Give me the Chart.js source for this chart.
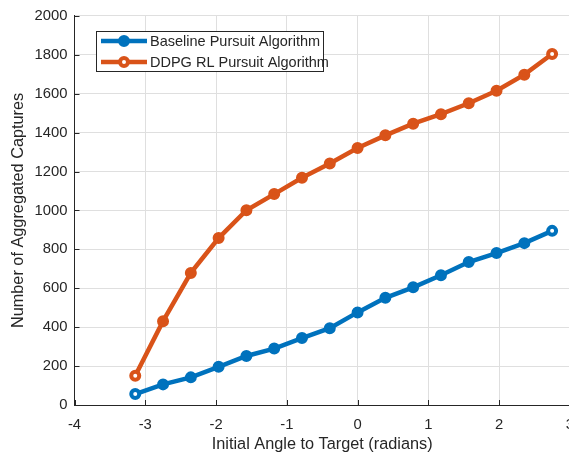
<!DOCTYPE html>
<html>
<head>
<meta charset="utf-8">
<script src="https://cdn.jsdelivr.net/npm/chart.js@4.4.1/dist/chart.umd.min.js"></script>
<style>
  html, body { margin: 0; padding: 0; background: #fff; overflow: hidden; width: 569px; height: 458px; }
  canvas { display: block; }
</style>
</head>
<body>
<canvas id="c" width="585" height="458"></canvas>
<script>
// Initial angle to target (radians), one sample every pi/8
const angles = [-3.1416, -2.7489, -2.3562, -1.9635, -1.5708, -1.1781, -0.7854, -0.3927,
                0, 0.3927, 0.7854, 1.1781, 1.5708, 1.9635, 2.3562, 2.7489];
// Aggregated captures per algorithm
const baselineCaptures = [56, 106, 142, 196, 252, 290, 344, 395, 476, 551, 605, 667, 735, 781, 832, 895];
const ddpgCaptures = [150, 431, 679, 858, 1001, 1084, 1168, 1241, 1321, 1386, 1446, 1495, 1551, 1615, 1698, 1804];
// Axis ticks
const xTicks = [-4, -3, -2, -1, 0, 1, 2, 3];
const yTicks = [0, 200, 400, 600, 800, 1000, 1200, 1400, 1600, 1800, 2000];
const seriesNames = ['Baseline Pursuit Algorithm', 'DDPG RL Pursuit Algorithm'];

const BLUE = '#0072BD';
const ORANGE = '#D95319';
const INK = '#262626';
const GRID = '#dfdfdf';
const FONT = 'Liberation Sans, Arial, Helvetica, sans-serif';

function toPoints(ys) { return ys.map((y, i) => ({ x: angles[i], y })); }
function pointFills(ys, color) { return ys.map((_, i) => (i === 0 || i === ys.length - 1) ? '#ffffff' : color); }

// Small tick marks pointing into the plot area
const inwardTicks = {
  id: 'inwardTicks',
  beforeDatasetsDraw(chart) {
    const { ctx, chartArea, scales } = chart;
    ctx.save();
    ctx.strokeStyle = INK;
    ctx.lineWidth = 1;
    ctx.beginPath();
    xTicks.forEach(v => {
      const px = Math.round(scales.x.getPixelForValue(v)) + 0.5;
      ctx.moveTo(px, chartArea.bottom);
      ctx.lineTo(px, chartArea.bottom - 5);
    });
    yTicks.forEach(v => {
      const py = Math.round(scales.y.getPixelForValue(v)) + 0.5;
      ctx.moveTo(chartArea.left, py);
      ctx.lineTo(chartArea.left + 5, py);
    });
    ctx.stroke();
    ctx.restore();
  }
};

// Boxed legend in the upper-left part of the plot
const boxedLegend = {
  id: 'boxedLegend',
  afterDraw(chart) {
    const { ctx } = chart;
    const x0 = 96.5, y0 = 31.5, w = 227, h = 40;
    ctx.save();
    ctx.fillStyle = '#ffffff';
    ctx.fillRect(x0, y0, w, h);
    ctx.strokeStyle = INK;
    ctx.lineWidth = 1;
    ctx.strokeRect(x0, y0, w, h);
    const rows = [41, 62];
    chart.data.datasets.forEach((ds, i) => {
      const y = rows[i];
      ctx.strokeStyle = ds.borderColor;
      ctx.lineWidth = 4.5;
      ctx.beginPath();
      ctx.moveTo(101, y);
      ctx.lineTo(147, y);
      ctx.stroke();
      ctx.beginPath();
      ctx.arc(124, y, 4, 0, Math.PI * 2);
      ctx.fillStyle = i === 1 ? '#ffffff' : ds.borderColor;
      ctx.fill();
      ctx.lineWidth = 4;
      ctx.stroke();
      ctx.fillStyle = INK;
      ctx.font = '14.5px ' + FONT;
      ctx.textBaseline = 'middle';
      ctx.textAlign = 'left';
      ctx.fillText(ds.label, 150, y + 0.5);
    });
    ctx.restore();
  }
};

new Chart(document.getElementById('c'), {
  type: 'line',
  data: {
    datasets: [
      {
        label: seriesNames[0],
        data: toPoints(baselineCaptures),
        borderColor: BLUE,
        backgroundColor: BLUE,
        pointBackgroundColor: pointFills(baselineCaptures, BLUE),
        pointBorderColor: BLUE,
        borderWidth: 4.5,
        pointRadius: 4,
        pointBorderWidth: 4,
        pointHoverRadius: 4,
        tension: 0
      },
      {
        label: seriesNames[1],
        data: toPoints(ddpgCaptures),
        borderColor: ORANGE,
        backgroundColor: ORANGE,
        pointBackgroundColor: pointFills(ddpgCaptures, ORANGE),
        pointBorderColor: ORANGE,
        borderWidth: 4.5,
        pointRadius: 4,
        pointBorderWidth: 4,
        pointHoverRadius: 4,
        tension: 0
      }
    ]
  },
  options: {
    responsive: false,
    animation: false,
    events: [],
    layout: { padding: { top: 14, left: 0, right: 0, bottom: 0 } },
    plugins: { legend: { display: false }, tooltip: { enabled: false } },
    scales: {
      x: {
        type: 'linear',
        min: -4,
        max: 3,
        afterBuildTicks(scale) { scale.ticks = xTicks.map(v => ({ value: v })); },
        afterFit(scale) { scale.height = 53; },
        ticks: { color: INK, font: { family: FONT, size: 14.8 }, padding: 11, maxRotation: 0,
                 callback: v => String(v) },
        grid: { color: GRID, lineWidth: 1, drawTicks: false },
        border: { color: INK, width: 1 },
        title: {
          display: true,
          text: 'Initial Angle to Target (radians)',
          color: INK,
          font: { family: FONT, size: 16.3 },
          padding: { top: 0, bottom: 4 }
        }
      },
      y: {
        min: 0,
        max: 2000,
        afterBuildTicks(scale) { scale.ticks = yTicks.map(v => ({ value: v })); },
        afterFit(scale) { scale.width = 74.5; },
        ticks: { color: INK, font: { family: FONT, size: 14.8 }, padding: 7,
                 callback: v => String(v) },
        grid: { color: GRID, lineWidth: 1, drawTicks: false },
        border: { color: INK, width: 1 },
        title: {
          display: true,
          text: 'Number of Aggregated Captures',
          color: INK,
          font: { family: FONT, size: 16.3 },
          padding: { top: 9, bottom: 0 }
        }
      }
    }
  },
  plugins: [inwardTicks, boxedLegend]
});
</script>
</body>
</html>
